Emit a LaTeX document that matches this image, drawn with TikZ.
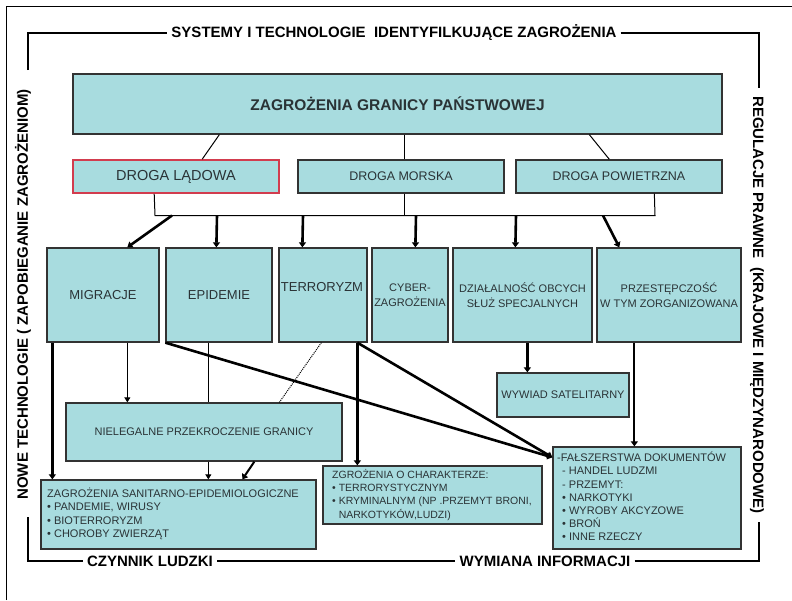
\documentclass[tikz,border=0pt]{standalone}
\usepackage{fontspec}
\setmainfont{Liberation Sans}
\usetikzlibrary{arrows.meta}
\definecolor{boxfill}{HTML}{A8DCDF}
\definecolor{boxline}{HTML}{333333}
\definecolor{txt}{HTML}{2A3336}
\definecolor{redline}{HTML}{D23C4E}
\begin{document}
\begin{tikzpicture}[x=1pt,y=-1pt,
  box/.style={draw=boxline, line width=1.3pt, fill=boxfill, inner sep=0pt, align=center, text=txt},
  fbig/.style={font=\fontsize{15.5}{18}\selectfont\bfseries},
  fmid/.style={font=\fontsize{12.5}{15}\selectfont},
  frow/.style={font=\fontsize{13}{15}\selectfont},
  fsmall/.style={font=\fontsize{11}{15}\selectfont},
  flist/.style={font=\fontsize{11}{13.2}\selectfont, inner sep=0pt, align=left, anchor=north west, text=txt},
  brk/.style={font=\fontsize{15}{18}\selectfont\bfseries, inner sep=4pt, text=black},
  bline/.style={line width=1.4pt, black},
  conn/.style={line width=1pt, black},
  connarr/.style={line width=1pt, black, -{Triangle[length=5pt,width=6pt]}},
  thickarr/.style={line width=2.6pt, black, -{Triangle[length=5pt,width=7pt]}},
]
\useasboundingbox (0,0) rectangle (792,600);
% outer page border
\draw[line width=1pt] (6,600) -- (6,6) -- (792,6);

% bracket labels
\node[brk] (ttop) at (394,33) {SYSTEMY I TECHNOLOGIE \ IDENTYFILKUJĄCE ZAGROŻENIA};
\node[brk, rotate=90] (tleft) at (23,294.5) {NOWE TECHNOLOGIE ( ZAPOBIEGANIE ZAGROŻENIOM)};
\node[brk, rotate=-90] (tright) at (757,305) {REGULACJE PRAWNE \ (KRAJOWE I MIĘDZYNARODOWE)};
\node[brk] (tczy) at (150,561) {CZYNNIK LUDZKI};
\node[brk] (twym) at (545,561) {WYMIANA INFORMACJI};
\draw[bline] (28,70) -- (28,33) -- (ttop.west);
\draw[bline] (ttop.east) -- (759,33) -- (759,88);
\draw[bline] (28,517) -- (28,561) -- (tczy.west);
\draw[bline] (tczy.east) -- (twym.west);
\draw[bline] (twym.east) -- (759,561) -- (759,522);

% boxes
\node[box, fbig, minimum width=649pt, minimum height=60pt] (top) at (397.5,104) {ZAGROŻENIA GRANICY PAŃSTWOWEJ};
\node[box, draw=redline, line width=1.6pt, font=\fontsize{14.5}{17}\selectfont, minimum width=206pt, minimum height=33pt] (lad) at (176,176.5) {DROGA LĄDOWA};
\node[box, fmid, minimum width=206pt, minimum height=33pt] (mor) at (401,176.5) {DROGA MORSKA};
\node[box, fmid, minimum width=206pt, minimum height=33pt] (pow) at (619,176.5) {DROGA POWIETRZNA};

\node[box, frow, minimum width=112pt, minimum height=94pt] (mig) at (103,295) {MIGRACJE};
\node[box, frow, minimum width=106pt, minimum height=94pt] (epi) at (219,295) {EPIDEMIE};
\node[box, minimum width=88pt, minimum height=94pt] (ter) at (323,295) {};
\node[frow, text=txt, inner sep=0pt] (terl) at (322,287) {TERRORYZM};
\node[box, fsmall, minimum width=76pt, minimum height=94pt] (cyb) at (410,295) {CYBER-\\ZAGROŻENIA};
\node[box, fsmall, minimum width=139pt, minimum height=94pt] (dzi) at (522.5,295) {DZIAŁALNOŚĆ OBCYCH\\SŁUŻ SPECJALNYCH};
\node[box, fsmall, minimum width=144pt, minimum height=94pt] (prz) at (669,295) {PRZESTĘPCZOŚĆ\\W TYM ZORGANIZOWANA};

\node[box, fsmall, minimum width=132pt, minimum height=44pt] (wyw) at (563,395) {WYWIAD SATELITARNY};
\node[box, fsmall, minimum width=276pt, minimum height=58pt] (nie) at (204,432) {NIELEGALNE PRZEKROCZENIE GRANICY};

\node[box, minimum width=275pt, minimum height=69pt] (san) at (178.5,514.5) {};
\node[flist] (sant) at (47,488) {ZAGROŻENIA SANITARNO-EPIDEMIOLOGICZNE\\• PANDEMIE, WIRUSY\\• BIOTERRORYZM\\• CHOROBY ZWIERZĄT};

\node[box, minimum width=219pt, minimum height=58pt] (zgr) at (432.5,495) {};
\node[flist, font=\fontsize{10.5}{13.3}\selectfont] (zgrt) at (332,469) {ZGROŻENIA O CHARAKTERZE:\\• TERRORYSTYCZNYM\\• KRYMINALNYM (NP .PRZEMYT BRONI,\\\phantom{• }NARKOTYKÓW,LUDZI)};

\node[box, minimum width=188pt, minimum height=102pt] (fal) at (647,498) {};
\node[flist] (falt) at (557,452) {-FAŁSZERSTWA DOKUMENTÓW\\\hspace*{5pt}- HANDEL LUDZMI\\\hspace*{5pt}- PRZEMYT:\\\hspace*{5pt}• NARKOTYKI\\\hspace*{5pt}• WYROBY AKCYZOWE\\\hspace*{5pt}• BROŃ\\\hspace*{5pt}• INNE RZECZY};

% top box to roads
\draw[conn] ([xshift=147pt]top.south west) -- ([xshift=130pt]lad.north west);
\draw[conn] ([xshift=3pt]top.south -| mor.north) -- ([xshift=3pt]mor.north);
\draw[conn] ([xshift=517pt]top.south west) -- ([xshift=94pt]pow.north west);

% roads to bus
\coordinate (busL) at (155,215.5);
\coordinate (busR) at (655,215.5);
\coordinate (b1) at (172,215.5);
\coordinate (b2) at (217,215.5);
\coordinate (b3) at (303,215.5);
\coordinate (b4) at (416,215.5);
\coordinate (b5) at (516,215.5);
\coordinate (b6) at (603,215.5);
\draw[conn] ([xshift=82pt]lad.south west) -- (busL) -- (busR) -- ([xshift=139pt]pow.south west);
\draw[conn] ([xshift=3pt]mor.south) -- ([xshift=3pt]mor.south |- busL);

% bus to row 3
\draw[thickarr] (b1) -- ([xshift=81pt]mig.north west);
\draw[thickarr] (b2) -- ([xshift=51pt]epi.north west);
\draw[thickarr] (b3) -- ([xshift=24pt]ter.north west);
\draw[thickarr] (b4) -- ([xshift=44pt]cyb.north west);
\draw[thickarr] (b5) -- ([xshift=63pt]dzi.north west);
\draw[thickarr] (b6) -- ([xshift=23pt]prz.north west);

% lower connectors
\draw[thickarr] ([xshift=6pt]mig.south west) -- ([xshift=12pt]san.north west);
\draw[connarr] ([xshift=81pt]mig.south west) -- ([xshift=62pt]nie.north west);
\draw[conn] ([xshift=43pt]epi.south west) -- ([xshift=143pt]nie.north west);
\draw[conn, densely dotted] ([xshift=43pt]ter.south west) -- ([xshift=214pt]nie.north west);
\draw[thickarr] (epi.south west) -- ([yshift=-11pt]fal.north west);
\draw[thickarr] ([xshift=79pt]ter.south west) -- ([xshift=35pt]zgr.north west);
\draw[thickarr] ([xshift=79pt]ter.south west) -- ([yshift=-11pt]fal.north west);
\draw[connarr] ([xshift=143pt]nie.south west) -- ([xshift=168pt]san.north west);
\draw[thickarr, line width=2pt] ([xshift=189pt]nie.south west) -- ([xshift=202pt]san.north west);
\draw[thickarr] ([xshift=75pt]dzi.south west) -- ([xshift=31pt]wyw.north west);
\draw[thickarr, line width=2pt] ([xshift=38pt]prz.south west) -- ([xshift=82pt]fal.north west);
\end{tikzpicture}
\end{document}
